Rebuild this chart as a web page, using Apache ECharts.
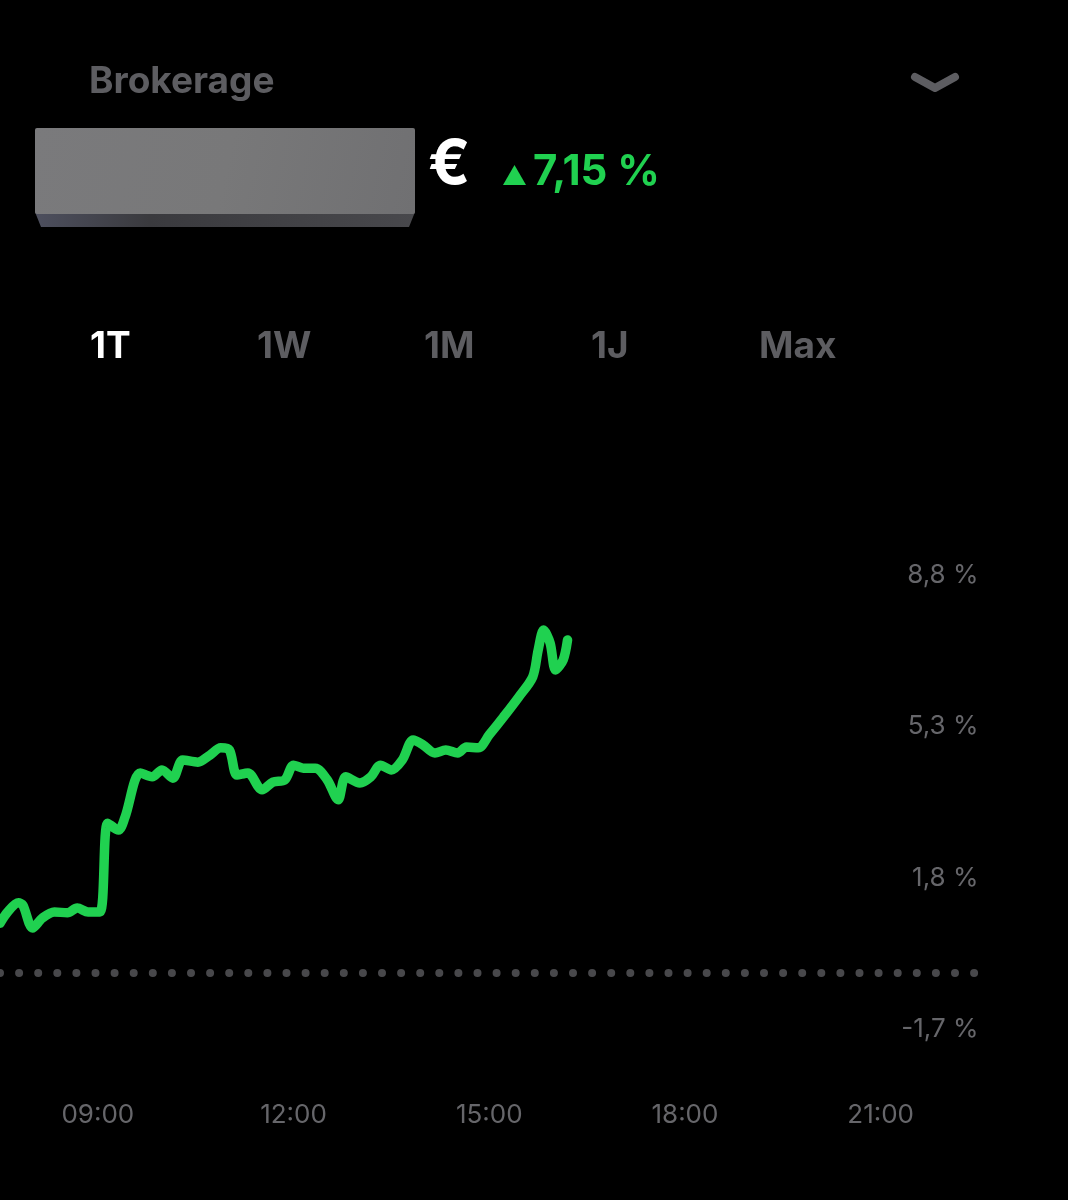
<!DOCTYPE html>
<html>
<head>
<meta charset="utf-8">
<script src="https://cdn.jsdelivr.net/npm/echarts@6/dist/echarts.min.js"></script>
<style>
html,body{margin:0;padding:0;background:#000;}
#chart{width:1068px;height:1200px;}
</style>
</head>
<body>
<div id="chart"></div>
<script>
// Time of day in minutes since midnight
const times = [450,457,467,471,480,489,500,512,521,531,542,549,559,565,579,590,599,609,618,632,643,653,661,668,678,691,701,712,720,729,740,751,761,768,781,791,800,810,820,830,839,850,860,871,879,890,900,913,927,940,945,950,956,961,968,972];
// Performance in percent
const perf = [1.15,1.41,1.62,1.57,1.04,1.27,1.41,1.39,1.50,1.41,1.41,3.46,3.30,3.60,4.62,4.53,4.69,4.50,4.92,4.87,5.03,5.20,5.15,4.57,4.62,4.23,4.41,4.46,4.80,4.73,4.73,4.46,4.00,4.53,4.39,4.53,4.80,4.69,4.92,5.38,5.27,5.08,5.15,5.08,5.22,5.20,5.50,5.91,6.37,6.84,7.46,7.92,7.62,7.00,7.23,7.69];
const xTicks = [540,720,900,1080,1260];
const yTicks = [-1.7,1.8,5.3,8.8];
const tabs = ['1T','1W','1M','1J','Max'];
const title = 'Brokerage';
const changeText = '7,15 %';

const FONT = 'Inter, Roboto, "Noto Sans", sans-serif';
const GRAY = '#5d5d61';
const GREEN = '#20d150';

const chart = echarts.init(document.getElementById('chart'));

const tabX = [90,257,424,591,759];
const graphics = [
  {type:'text', left:89, top:63, style:{text:title, font:'bold 37px '+FONT, fill:GRAY}},
  {type:'polyline', shape:{points:[[915,77],[935,88],[955,77]]}, style:{stroke:GRAY, lineWidth:8, lineCap:'round', lineJoin:'round', fill:null}},
  {type:'polygon', shape:{points:[[35,212],[415,212],[409,227],[41,227]]}, style:{fill:new echarts.graphic.LinearGradient(0,0,1,0,[{offset:0,color:'#4d4f5e'},{offset:0.3,color:'#3a3a3e'},{offset:1,color:'#48484c'}])}},
  {type:'rect', shape:{x:35,y:128,width:380,height:86,r:2}, style:{fill:new echarts.graphic.LinearGradient(0,0,1,1,[{offset:0,color:'#7a7a7c'},{offset:0.5,color:'#787879'},{offset:1,color:'#707072'}])}},
  {type:'text', left:428, top:134, style:{text:'€', font:'bold 62px '+FONT, fill:'#ffffff'}},
  {type:'polygon', shape:{points:[[503,185],[526,185],[514.5,165]]}, style:{fill:GREEN}},
  {type:'text', left:533, top:151, style:{text:changeText, font:'bold 42px '+FONT, fill:GREEN}}
];
tabs.forEach((t,i)=>{
  graphics.push({type:'text', left:tabX[i], top:328, style:{text:t, font:'bold 37px '+FONT, fill: i===0 ? '#ffffff' : GRAY}});
});

chart.setOption({
  backgroundColor:'#000000',
  animation:false,
  graphic: graphics,
  grid:{left:0, right:89.5, top:540, bottom:118.75, outerBoundsMode:'none', containLabel:false},
  xAxis:{
    type:'value', min:450, max:1350,
    axisLine:{show:false}, axisTick:{show:false}, splitLine:{show:false},
    axisLabel:{
      customValues:xTicks, margin:21, color:'#66666a', fontSize:26, fontFamily:FONT,
      formatter:v=>String(Math.floor(v/60)).padStart(2,'0')+':'+String(v%60).padStart(2,'0')
    }
  },
  yAxis:{
    type:'value', position:'right', min:-2.5, max:10,
    axisLine:{show:false}, axisTick:{show:false}, splitLine:{show:false},
    axisLabel:{
      customValues:yTicks, inside:true, margin:0, color:'#66666a', fontSize:26, fontFamily:FONT,
      verticalAlign:'bottom', lineHeight:34,
      formatter:v=>String(v).replace('.',',')+' %'
    }
  },
  series:[{
    type:'line',
    data: times.map((t,i)=>[t,perf[i]]),
    showSymbol:false,
    smooth:0.3,
    lineStyle:{color:GREEN, width:9.5, cap:'round', join:'round'},
    markLine:{
      silent:true, symbol:['none','none'], label:{show:false},
      lineStyle:{color:'#48484b', width:8, type:[0,19.1], cap:'round'},
      data:[{yAxis:0}]
    },
    z:3
  }]
});
</script>
</body>
</html>
